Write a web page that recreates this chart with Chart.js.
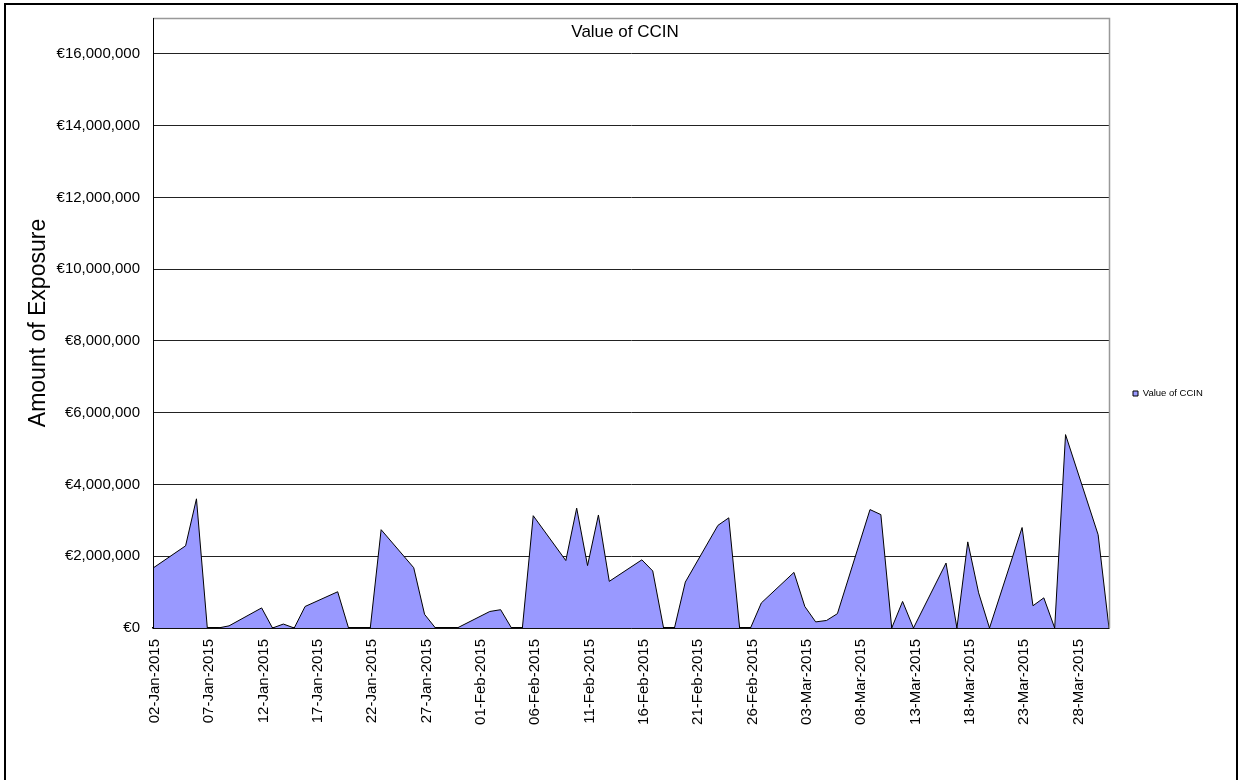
<!DOCTYPE html>
<html><head><meta charset="utf-8">
<script src="https://cdn.jsdelivr.net/npm/chart.js@4.4.1/dist/chart.umd.min.js"></script>
<style>
html,body{margin:0;padding:0;background:#fff;overflow:hidden;}
#wrap{position:relative;width:1240px;height:780px;overflow:hidden;}
#frame{position:absolute;left:4px;top:3px;width:1234px;height:820px;border:2px solid #000;box-sizing:border-box;pointer-events:none;}
canvas{position:absolute;left:0;top:0;}
</style></head><body>
<div id="wrap"><canvas id="c" width="1240" height="780"></canvas><div id="frame"></div></div>
<script>
const chartTitle = 'Value of CCIN';
const seriesName = 'Value of CCIN';
const yAxisTitle = 'Amount of Exposure';

const dates = [
 '2015-01-02','2015-01-05','2015-01-06','2015-01-07','2015-01-08','2015-01-09',
 '2015-01-12','2015-01-13','2015-01-14','2015-01-15','2015-01-16',
 '2015-01-19','2015-01-20','2015-01-21','2015-01-22','2015-01-23',
 '2015-01-26','2015-01-27','2015-01-28','2015-01-29','2015-01-30',
 '2015-02-02','2015-02-03','2015-02-04','2015-02-05','2015-02-06',
 '2015-02-09','2015-02-10','2015-02-11','2015-02-12','2015-02-13',
 '2015-02-16','2015-02-17','2015-02-18','2015-02-19','2015-02-20',
 '2015-02-23','2015-02-24','2015-02-25','2015-02-26','2015-02-27',
 '2015-03-02','2015-03-03','2015-03-04','2015-03-05','2015-03-06',
 '2015-03-09','2015-03-10','2015-03-11','2015-03-12','2015-03-13',
 '2015-03-16','2015-03-17','2015-03-18','2015-03-19','2015-03-20',
 '2015-03-23','2015-03-24','2015-03-25','2015-03-26','2015-03-27',
 '2015-03-30','2015-03-31'
];
const values = [
 1670000,2290000,3600000,0,0,60000,
 560000,0,110000,0,600000,
 1010000,0,0,0,2740000,
 1680000,380000,0,0,0,
 460000,510000,0,0,3130000,
 1880000,3340000,1740000,3150000,1300000,
 1900000,1590000,0,0,1280000,
 2860000,3070000,0,0,700000,
 1550000,600000,170000,210000,400000,
 3300000,3160000,0,740000,0,
 1810000,0,2400000,980000,0,
 2800000,620000,840000,0,5390000,
 2600000,0
];
const xTickLabels = ['02-Jan-2015','07-Jan-2015','12-Jan-2015','17-Jan-2015','22-Jan-2015','27-Jan-2015',
 '01-Feb-2015','06-Feb-2015','11-Feb-2015','16-Feb-2015','21-Feb-2015','26-Feb-2015',
 '03-Mar-2015','08-Mar-2015','13-Mar-2015','18-Mar-2015','23-Mar-2015','28-Mar-2015'];
const yTickValues = [0,2000000,4000000,6000000,8000000,10000000,12000000,14000000,16000000];
const yMax = 17000000;
const xEndDate = '2015-03-31';

const months = {Jan:0,Feb:1,Mar:2,Apr:3,May:4,Jun:5,Jul:6,Aug:7,Sep:8,Oct:9,Nov:10,Dec:11};
const base = Date.UTC(2015,0,2);
const isoDay = s => { const p = s.split('-'); return (Date.UTC(+p[0], +p[1]-1, +p[2]) - base)/86400000; };
const lblDay = s => { const p = s.split('-'); return (Date.UTC(+p[2], months[p[1]], +p[0]) - base)/86400000; };
const xTickDays = xTickLabels.map(lblDay);
const points = dates.map((d,i)=>({x: isoDay(d), y: values[i]}));

Chart.defaults.font.family = 'Arial, "Liberation Sans", sans-serif';
Chart.defaults.color = '#000';

const framePlugin = {
  id: 'frame',
  afterDatasetsDraw(chart){
    const {ctx, chartArea:a} = chart;
    ctx.save();
    ctx.strokeStyle = '#999';
    ctx.lineWidth = 1.5;
    ctx.beginPath();
    ctx.moveTo(a.left, a.top + 0.5); ctx.lineTo(a.right + 0.5, a.top + 0.5); ctx.lineTo(a.right + 0.5, a.bottom);
    ctx.stroke();
    ctx.strokeStyle = '#000';
    ctx.lineWidth = 1;
    ctx.beginPath();
    ctx.moveTo(a.left + 0.5, a.top); ctx.lineTo(a.left + 0.5, a.bottom);
    ctx.stroke();
    ctx.restore();
  },
  afterDraw(chart){
    const {ctx, chartArea:a} = chart;
    ctx.save();
    ctx.font = '17px Arial, "Liberation Sans", sans-serif';
    ctx.fillStyle = '#000';
    ctx.textAlign = 'center';
    ctx.textBaseline = 'middle';
    ctx.fillText(chartTitle, (a.left + a.right)/2 - 6, a.top + 14);
    ctx.restore();
  }
};

new Chart(document.getElementById('c'), {
  type: 'line',
  data: { datasets: [{
    label: seriesName,
    data: points,
    fill: 'origin',
    backgroundColor: '#9999FF',
    borderColor: '#000',
    borderWidth: 1,
    pointRadius: 0,
    tension: 0
  }]},
  options: {
    responsive: false,
    animation: false,
    devicePixelRatio: 1,
    layout: { padding: { left: 0, top: 18, right: 31, bottom: 11 } },
    plugins: {
      legend: {
        position: 'right',
        maxWidth: 100,
        labels: { boxWidth: 5, boxHeight: 5, padding: 24, color: '#000', font: { size: 9.5 } }
      },
      tooltip: { enabled: false },
      title: { display: false }
    },
    scales: {
      x: {
        type: 'linear',
        min: 0,
        max: isoDay(xEndDate),
        z: 1,
        afterBuildTicks: s => { s.ticks = xTickDays.map(v => ({value: v})); },
        afterFit: s => { s.height = 141; },
        grid: { display: false, drawTicks: false },
        border: { display: true, color: '#000', width: 1.5 },
        ticks: {
          autoSkip: false, minRotation: 90, maxRotation: 90, padding: 11, labelOffset: 2,
          font: { size: 15 }, color: '#000',
          callback: v => { const i = xTickDays.indexOf(v); return i >= 0 ? xTickLabels[i] : ''; }
        }
      },
      y: {
        min: 0,
        max: yMax,
        afterBuildTicks: s => { s.ticks = yTickValues.map(v => ({value: v})); },
        afterFit: s => { s.width = 153; s.paddingTop = 0; s.paddingBottom = 0; },
        grid: { color: '#222', lineWidth: 1, drawTicks: false },
        border: { display: true, color: '#000', width: 1 },
        ticks: {
          padding: 13, font: { size: 15 }, color: '#000',
          callback: v => '\u20AC' + Number(v).toLocaleString('en-US')
        },
        title: { display: true, text: yAxisTitle, color: '#000', font: { size: 23 }, padding: { top: 25, bottom: 0 } }
      }
    }
  },
  plugins: [framePlugin]
});
</script>
</body></html>
